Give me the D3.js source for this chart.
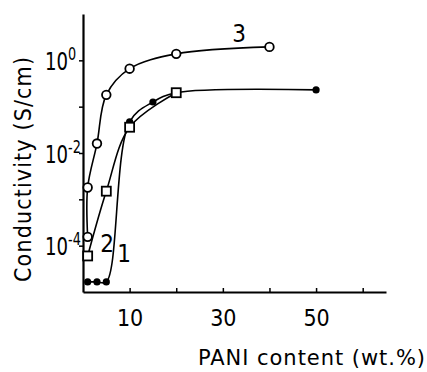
<!DOCTYPE html>
<html>
<head>
<meta charset="utf-8">
<script src="https://cdn.jsdelivr.net/npm/d3@7"></script>
<style>
  body { margin: 0; background: #fff; }
  .narrow { font-family: "Liberation Sans Narrow", "DejaVu Sans Condensed", sans-serif; }
  .title { font-family: "DejaVu Sans Condensed", "DejaVu Sans", sans-serif; }
  .xtitle { font-family: "DejaVu Sans", sans-serif; }
</style>
</head>
<body>
<div id="chart"></div>
<script>
// PANI content (wt.%) and conductivity (S/cm) for the three samples
const xTickValues = [10, 20, 30, 40, 50, 60];
const xTickLabels = ["10", "", "30", "", "50", ""];
const yTickValues = [1, 1e-1, 1e-2, 1e-3, 1e-4];
const yTickLabels = ["0", "", "-2", "", "-4"];

const x1 = [1, 3, 5, 10, 15, 20, 50];
const y1 = [1.65e-5, 1.65e-5, 1.65e-5, 0.047, 0.126, 0.2, 0.23];

const x2 = [1, 5, 10, 20];
const y2 = [6e-5, 1.5e-3, 0.036, 0.2];

const x3 = [1, 1, 3, 5, 10, 20, 40];
const y3 = [1.55e-4, 1.8e-3, 0.016, 0.18, 0.66, 1.38, 1.95];

const W = 427, H = 372;
const svg = d3.select("#chart").append("svg")
  .attr("width", W).attr("height", H);

const x = d3.scaleLinear().domain([0, 65]).range([83, 386]);
const y = d3.scaleLog().domain([1e-5, 10]).range([292, 14]);

// axes
const xAxis = svg.append("g")
  .attr("transform", `translate(0,${y(1e-5)})`)
  .call(d3.axisBottom(x).tickValues(xTickValues).tickSize(-4).tickSizeOuter(0)
    .tickFormat((d, i) => xTickLabels[i]));
xAxis.select(".domain").attr("stroke-width", 2.2);
xAxis.selectAll(".tick line").attr("stroke-width", 1.5);
xAxis.selectAll(".tick text")
  .attr("class", "narrow")
  .attr("font-size", 23)
  .attr("y", 18).attr("dy", "0.71em");

const yAxis = svg.append("g")
  .attr("transform", `translate(${x(0)},0)`)
  .call(d3.axisLeft(y).tickValues(yTickValues).tickSize(4).tickSizeOuter(0)
    .tickFormat(() => ""));
yAxis.select(".domain").attr("stroke-width", 2.2);
yAxis.selectAll(".tick line").attr("stroke-width", 1.5);
yAxis.selectAll(".tick text").each(function(d, i) {
  if (!yTickLabels[i]) return;
  // squeeze the labels a little, the scan uses a narrow face
  const t = d3.select(this)
    .attr("class", "narrow")
    .attr("font-size", 24)
    .attr("text-anchor", "start")
    .attr("fill", "#000")
    .attr("x", 0).attr("dy", "0.38em")
    .attr("transform", "translate(-38,0) scale(0.84,1)");
  t.append("tspan").text("10");
  t.append("tspan").attr("font-size", 17).attr("dy", -10).text(yTickLabels[i]);
});

// axis titles
svg.append("text").attr("class", "xtitle")
  .attr("font-size", 21)
  .attr("x", 198).attr("y", 365)
  .attr("textLength", 227).attr("lengthAdjust", "spacing")
  .text("PANI content (wt.%)");
svg.append("text").attr("class", "title")
  .attr("font-size", 23)
  .attr("transform", "translate(31,169.5) rotate(-90)")
  .attr("text-anchor", "middle")
  .attr("textLength", 225).attr("lengthAdjust", "spacing")
  .text("Conductivity (S/cm)");

// curves
const line = d3.line()
  .x(d => x(d[0])).y(d => y(d[1]))
  .curve(d3.curveCatmullRom.alpha(0.5));

function series(xs, ys) { return xs.map((v, i) => [v, ys[i]]); }
const s1 = series(x1, y1), s2 = series(x2, y2), s3 = series(x3, y3);

[s1, s2, s3].forEach(s => {
  svg.append("path").datum(s)
    .attr("d", line)
    .attr("fill", "none")
    .attr("stroke", "#000")
    .attr("stroke-width", 1.6);
});

// markers
svg.selectAll(".dot1").data(s1).enter().append("circle")
  .attr("cx", d => x(d[0])).attr("cy", d => y(d[1]))
  .attr("r", 3.6).attr("fill", "#000");

svg.selectAll(".sq2").data(s2).enter().append("rect")
  .attr("x", d => x(d[0]) - 4.5).attr("y", d => y(d[1]) - 4.5)
  .attr("width", 9).attr("height", 9)
  .attr("fill", "#fff").attr("stroke", "#000").attr("stroke-width", 1.8);

svg.selectAll(".c3").data(s3).enter().append("circle")
  .attr("cx", d => x(d[0])).attr("cy", d => y(d[1]))
  .attr("r", 4.3)
  .attr("fill", "#fff").attr("stroke", "#000").attr("stroke-width", 1.8);

// curve labels
const curveLabels = [
  { t: "1", px: x(8.8), py: y(4.4e-5) },
  { t: "2", px: x(5.15), py: y(7.3e-5) },
  { t: "3", px: x(33.5), py: y(2.5) }
];
svg.selectAll(".clab").data(curveLabels).enter().append("text")
  .attr("class", "narrow")
  .attr("font-size", 24)
  .attr("text-anchor", "middle")
  .attr("x", d => d.px).attr("y", d => d.py)
  .text(d => d.t);
</script>
</body>
</html>
